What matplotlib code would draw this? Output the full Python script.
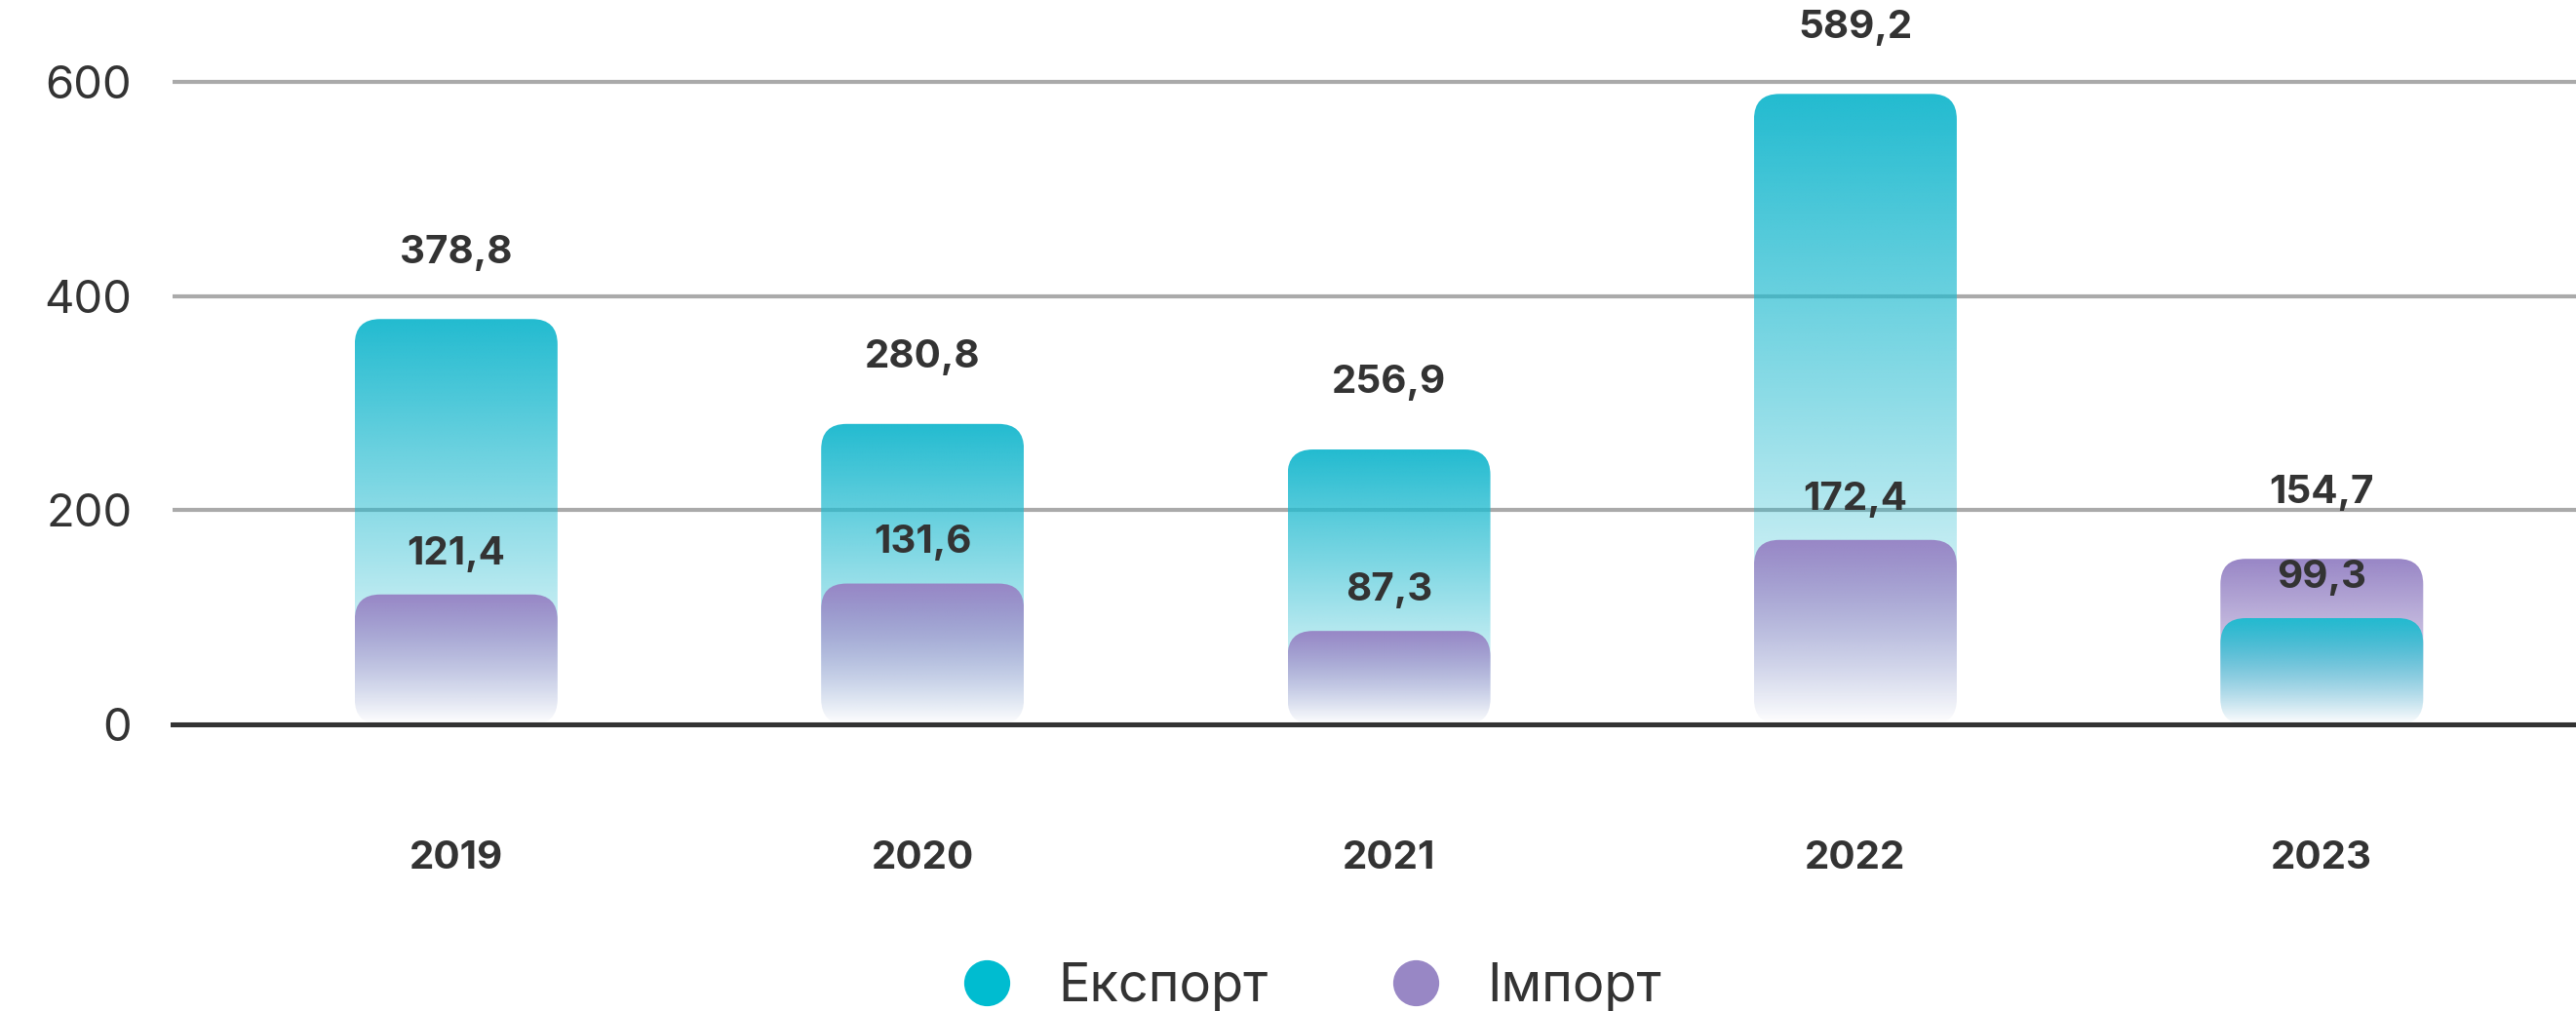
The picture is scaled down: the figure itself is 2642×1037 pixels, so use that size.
import matplotlib.pyplot as plt
import numpy as np
from matplotlib.patches import FancyBboxPatch
from matplotlib.lines import Line2D
from matplotlib.colors import to_rgb

plt.rcParams['font.family'] = ['Inter', 'DejaVu Sans']

# Data
years = ["2019", "2020", "2021", "2022", "2023"]
export = [378.8, 280.8, 256.9, 589.2, 99.3]
imports = [121.4, 131.6, 87.3, 172.4, 154.7]
export_labels = ["378,8", "280,8", "256,9", "589,2", "99,3"]
import_labels = ["121,4", "131,6", "87,3", "172,4", "154,7"]
yticks = [0, 200, 400, 600]

teal = "#22BBD0"
purple = "#9886C6"
text_col = "#333333"

W, H = 2642, 1037
fig = plt.figure(figsize=(W / 100, H / 100), dpi=100)
ax = fig.add_axes([177 / W, 1 - 743 / H, 1 - 177 / W, (743 - 73.5) / H])

xlim = (-0.608, 4.545)
ylim = (0, 610)
ax.set_xlim(*xlim)
ax.set_ylim(*ylim)

# pixels per data unit, used to keep rounded corners circular
px_x = (1 - 177 / W) * W / (xlim[1] - xlim[0])
px_y = (743 - 73.5) / (ylim[1] - ylim[0])
aspect = px_x / px_y
bar_w = 208 / px_x
radius = 26 / px_x


def gradient_bar(x, h, color, z):
    x0 = x - bar_w / 2
    patch = FancyBboxPatch((x0, 0), bar_w, h,
                           boxstyle=f"round,pad=0,rounding_size={radius}",
                           mutation_aspect=aspect, facecolor="none",
                           edgecolor="none", zorder=z)
    ax.add_patch(patch)
    rgba = np.zeros((256, 1, 4))
    rgba[:, 0, :3] = to_rgb(color)
    rgba[:, 0, 3] = np.linspace(1, 0, 256)
    im = ax.imshow(rgba, extent=(x0, x0 + bar_w, 0, h), aspect="auto",
                   interpolation="bilinear", zorder=z)
    im.set_clip_path(patch)


for i in range(len(years)):
    pair = [(export[i], teal, export_labels[i]), (imports[i], purple, import_labels[i])]
    pair.sort(key=lambda p: -p[0])
    for k, (v, c, lab) in enumerate(pair):
        gradient_bar(i, v, c, 2 + k)
        off = 49 if k == 0 else 30
        ax.annotate(lab, (i, v), xytext=(0, off), textcoords="offset points",
                    ha="center", va="center", fontsize=29, fontweight="bold",
                    color=text_col, zorder=10, annotation_clip=False)

ax.set_xlim(*xlim)
ax.set_ylim(*ylim)

# Axes styling
for s in ["top", "right", "left"]:
    ax.spines[s].set_visible(False)
ax.spines["bottom"].set_color(text_col)
ax.spines["bottom"].set_linewidth(3.6)
ax.spines["bottom"].set_zorder(6)
ax.set_yticks(yticks, [str(t) for t in yticks])
ax.yaxis.grid(True, color="#AAAAAA", linewidth=3)
ax.set_axisbelow(True)
ax.tick_params(axis="y", length=0, pad=30, labelsize=34, labelcolor=text_col)
ax.set_xticks(range(len(years)), years)
ax.tick_params(axis="x", length=0, pad=86, labelsize=29, labelcolor=text_col)
for t in ax.get_xticklabels():
    t.set_fontweight("bold")

# Legend
handles = [Line2D([], [], marker="o", ls="", markersize=34, markerfacecolor="#00BCD0",
                  markeredgecolor="none"),
           Line2D([], [], marker="o", ls="", markersize=34, markerfacecolor="#9887C5",
                  markeredgecolor="none")]
fig.legend(handles, ["Експорт", "Імпорт"], loc="center left",
           bbox_to_anchor=(985 / W, 1 - 1012 / H), ncol=2, frameon=False,
           fontsize=39, handlelength=1.0, handletextpad=0.85, columnspacing=2.3,
           borderpad=0, borderaxespad=0, labelcolor=text_col)

fig.savefig("out.png", dpi=100)
